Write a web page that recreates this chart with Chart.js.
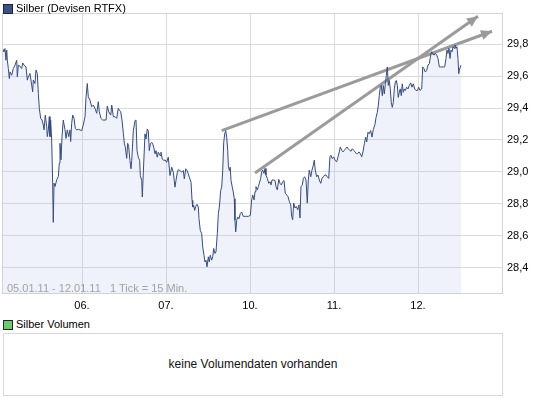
<!DOCTYPE html>
<html>
<head>
<meta charset="utf-8">
<script src="https://cdn.jsdelivr.net/npm/chart.js@4/dist/chart.umd.min.js"></script>
<style>
  html, body { margin: 0; padding: 0; background: #fff; }
  body { width: 545px; height: 398px; position: relative; overflow: hidden;
         font-family: "Liberation Sans", Arial, sans-serif; }
  #wrap { position: absolute; left: 0; top: 0; width: 545px; height: 315px; }
  .legend { position: absolute; font-size: 11px; color: #000; white-space: nowrap; }
  .legend .sq { position: absolute; left: 0; width: 8px; height: 8px; border: 1px solid #223; }
  .legend span.t { position: absolute; left: 13px; top: -1px; }
  #foot { position: absolute; left: 7px; top: 282px; font-size: 11px; color: #a2a2a2; white-space: pre; }
  #volbox { position: absolute; left: 3px; top: 333px; width: 498px; height: 61px;
            border: 1px solid #d8d8d8; box-sizing: content-box; }
  #volbox div { position: absolute; left: 0; right: 0; top: 23px; text-align: center;
                font-size: 12px; color: #111; }
</style>
</head>
<body>
<div id="wrap"><canvas id="c" width="545" height="315"></canvas></div>
<div class="legend" style="left:3px; top:3px;"><div class="sq" style="background:#3c5283; top:1px;"></div><span class="t">Silber (Devisen RTFX)</span></div>
<div id="foot">05.01.11 - 12.01.11   1 Tick = 15 Min.</div>
<div class="legend" style="left:3px; top:319px;"><div class="sq" style="background:#6ccc6c; top:1px;"></div><span class="t">Silber Volumen</span></div>
<div id="volbox"><div>keine Volumendaten vorhanden</div></div>
<script>
// Trading-day positions (0 = 05.01.11 start, 1 = 06., 2 = 07., 3 = 10., 4 = 11., 5 = 12.)
const days = [
0.056,0.071,0.083,0.095,0.104,0.111,0.123,0.135,0.143,0.163,0.182,0.202,0.223,0.230,0.242,0.262,0.282,0.294,0.310,0.333,
0.349,0.361,0.381,0.401,0.413,0.420,0.440,0.452,0.468,0.480,0.492,0.508,0.524,0.539,0.548,0.563,0.580,0.587,0.599,0.611,
0.619,0.627,0.639,0.651,0.658,0.667,0.679,0.699,0.718,0.730,0.738,0.750,0.762,0.777,0.798,0.810,0.825,0.842,0.857,0.865,
0.877,0.889,0.905,0.920,0.937,0.956,0.976,0.996,1.015,1.036,1.048,1.063,1.075,1.095,1.115,1.135,1.155,1.175,1.194,1.206,
1.226,1.246,1.262,1.286,1.301,1.318,1.342,1.354,1.373,1.393,1.413,1.432,1.444,1.461,1.476,1.492,1.504,1.515,1.532,1.544,
1.556,1.571,1.583,1.592,1.611,1.631,1.643,1.655,1.670,1.687,1.694,1.711,1.718,1.730,1.750,1.762,1.777,1.789,1.801,1.813,
1.830,1.842,1.854,1.869,1.881,1.896,1.908,1.929,1.940,1.956,1.973,1.988,2.008,2.027,2.048,2.068,2.087,2.107,2.119,2.135,
2.146,2.167,2.187,2.206,2.218,2.235,2.250,2.265,2.277,2.298,2.310,2.318,2.330,2.342,2.354,2.369,2.385,2.393,2.408,2.425,
2.437,2.452,2.464,2.476,2.488,2.504,2.515,2.527,2.544,2.556,2.568,2.583,2.595,2.611,2.623,2.635,2.651,2.663,2.675,2.687,
2.699,2.711,2.723,2.735,2.742,2.754,2.765,2.774,2.789,2.801,2.813,2.821,2.830,2.842,2.854,2.869,2.884,2.901,2.920,2.949,
2.980,3.004,3.020,3.032,3.048,3.060,3.071,3.087,3.099,3.111,3.127,3.139,3.151,3.167,3.179,3.190,3.206,3.223,3.238,3.250,
3.262,3.277,3.298,3.310,3.325,3.342,3.357,3.373,3.389,3.405,3.420,3.437,3.452,3.468,3.485,3.496,3.508,3.520,3.536,3.551,
3.568,3.583,3.595,3.607,3.623,3.635,3.651,3.667,3.682,3.694,3.706,3.723,3.738,3.754,3.765,3.777,3.794,3.810,3.825,3.842,
3.857,3.873,3.889,3.905,3.920,3.937,3.952,3.964,3.980,3.996,4.012,4.032,4.048,4.063,4.075,4.092,4.107,4.123,4.139,4.155,
4.170,4.187,4.202,4.218,4.235,4.250,4.265,4.282,4.298,4.313,4.330,4.345,4.361,4.377,4.389,4.405,4.420,4.437,4.452,4.468,
4.488,4.500,4.515,4.527,4.539,4.551,4.563,4.575,4.587,4.599,4.611,4.623,4.635,4.646,4.658,4.670,4.682,4.694,4.706,4.718,
4.730,4.742,4.754,4.765,4.777,4.789,4.801,4.813,4.825,4.837,4.849,4.865,4.881,4.896,4.913,4.929,4.944,4.961,4.976,4.992,
5.008,5.024,5.044,5.056,5.071,5.087,5.104,5.119,5.135,5.151,5.163,5.175,5.190,5.206,5.223,5.238,5.254,5.270,5.286,5.301,
5.318,5.333,5.345,5.357,5.369,5.381,5.393,5.405,5.417,5.429,5.440,5.452,5.464,5.476,5.485,5.492,5.500,5.512
];
const prices = [
29.773,29.752,29.773,29.700,29.763,29.700,29.648,29.585,29.627,29.606,29.648,29.669,29.700,29.596,29.669,29.663,29.648,29.683,29.669,29.658,
29.575,29.596,29.617,29.544,29.502,29.575,29.554,29.638,29.617,29.492,29.398,29.335,29.325,29.294,29.263,29.356,29.283,29.221,29.263,29.346,
29.221,29.325,29.200,28.929,28.683,28.929,28.908,28.950,28.971,29.054,29.179,29.075,29.221,29.325,29.263,29.210,29.263,29.221,29.263,29.190,
29.304,29.356,29.335,29.273,29.263,29.267,29.263,29.258,29.294,29.346,29.471,29.554,29.471,29.450,29.408,29.419,29.398,29.367,29.440,29.377,
29.335,29.325,29.325,29.325,29.413,29.377,29.356,29.419,29.346,29.346,29.335,29.398,29.388,29.377,29.325,29.242,29.179,29.158,29.085,29.179,
29.158,29.070,29.019,29.071,29.258,29.321,29.325,29.133,29.092,29.071,28.977,28.946,28.842,28.998,29.238,29.206,29.269,29.258,29.133,29.175,
29.185,29.175,29.154,29.113,29.133,29.092,29.123,29.102,29.123,29.081,29.071,29.075,29.060,29.092,28.977,29.029,28.998,28.904,28.946,28.998,
29.013,29.008,28.998,29.008,28.956,29.019,29.008,28.988,28.967,28.935,28.821,28.779,28.790,28.758,28.783,28.796,28.779,28.706,28.633,28.613,
28.529,28.477,28.435,28.446,28.404,28.467,28.435,28.477,28.446,28.467,28.519,28.488,28.498,28.613,28.738,28.779,28.883,28.904,29.008,29.185,
29.238,29.258,29.217,29.133,29.040,29.008,29.029,28.946,28.904,28.873,28.831,28.696,28.623,28.696,28.717,28.706,28.738,28.748,28.721,28.721,
28.721,28.727,28.824,28.855,28.824,28.876,28.907,28.887,28.907,28.928,28.959,29.000,29.011,28.990,29.021,28.980,28.959,28.928,28.938,28.918,
28.949,28.949,28.945,28.907,28.887,28.953,28.928,28.918,28.938,28.945,28.866,28.855,28.845,28.814,28.793,28.721,28.700,28.804,28.773,28.783,
28.762,28.793,28.711,28.907,28.918,28.959,28.969,28.949,28.804,28.949,29.011,28.969,29.011,29.042,29.073,29.011,28.969,28.980,28.949,28.928,
28.959,28.969,28.980,28.980,28.969,28.959,29.094,29.104,29.083,29.094,29.073,29.063,29.094,29.125,29.156,29.135,29.125,29.135,29.145,29.156,
29.145,29.135,29.129,29.145,29.135,29.125,29.114,29.114,29.125,29.114,29.094,29.125,29.176,29.218,29.187,29.249,29.239,29.259,29.218,29.266,
29.298,29.340,29.372,29.414,29.478,29.531,29.542,29.478,29.542,29.489,29.552,29.605,29.658,29.542,29.573,29.520,29.436,29.404,29.436,29.520,
29.563,29.573,29.542,29.467,29.499,29.520,29.478,29.552,29.499,29.520,29.510,29.531,29.520,29.542,29.558,29.531,29.552,29.520,29.510,29.510,
29.531,29.510,29.520,29.658,29.647,29.626,29.637,29.669,29.679,29.732,29.753,29.743,29.732,29.743,29.732,29.711,29.658,29.658,29.658,29.658,
29.658,29.711,29.764,29.743,29.775,29.711,29.764,29.753,29.785,29.775,29.796,29.775,29.785,29.711,29.616,29.637,29.652,29.669
];
const dayTicks = [1, 2, 3, 4, 5];
const dayLabels = ['06.', '07.', '10.', '11.', '12.'];
const priceTicks = [28.4, 28.6, 28.8, 29.0, 29.2, 29.4, 29.6, 29.8];
// Drawn trend arrows: [day, price] start and end
const trendA = [[2.663, 29.259], [5.881, 29.882]];
const trendB = [[3.060, 28.993], [5.714, 29.976]];
const X_MIN = 0.0595, X_MAX = 6.0, Y_MIN = 28.24, Y_MAX = 29.99;

const FONT = '"Liberation Sans", Arial, sans-serif';
const series = days.map((d, i) => ({ x: d, y: prices[i] }));
const toPts = arr => arr.map(p => ({ x: p[0], y: p[1] }));

const arrowHeads = {
  id: 'arrowHeads',
  afterDatasetsDraw(chart) {
    const ctx = chart.ctx;
    chart.data.datasets.forEach((ds, i) => {
      if (!ds.isArrow) return;
      const pts = chart.getDatasetMeta(i).data;
      const a = pts[0], b = pts[pts.length - 1];
      const ang = Math.atan2(b.y - a.y, b.x - a.x);
      const len = 11, hw = 5;
      ctx.save();
      ctx.fillStyle = ds.borderColor;
      ctx.beginPath();
      ctx.moveTo(b.x, b.y);
      ctx.lineTo(b.x - len * Math.cos(ang) + hw * Math.sin(ang), b.y - len * Math.sin(ang) - hw * Math.cos(ang));
      ctx.lineTo(b.x - len * Math.cos(ang) - hw * Math.sin(ang), b.y - len * Math.sin(ang) + hw * Math.cos(ang));
      ctx.closePath();
      ctx.fill();
      ctx.restore();
    });
  },
  afterDraw(chart) {
    const { ctx, chartArea: c } = chart;
    ctx.save();
    ctx.strokeStyle = '#d2d2d2';
    ctx.lineWidth = 1;
    ctx.strokeRect(c.left - 0.5, c.top - 0.5, c.right - c.left + 1, c.bottom - c.top + 1);
    ctx.restore();
  }
};

new Chart(document.getElementById('c'), {
  type: 'line',
  data: {
    datasets: [
      { data: series, borderColor: '#364b7d', borderWidth: 1, pointRadius: 0,
        fill: 'start', backgroundColor: 'rgba(148,168,222,0.15)', tension: 0 },
      { data: toPts(trendA), isArrow: true, borderColor: '#9b9b9b', borderWidth: 3,
        pointRadius: 0, fill: false, clip: false },
      { data: toPts(trendB), isArrow: true, borderColor: '#9b9b9b', borderWidth: 3,
        pointRadius: 0, fill: false, clip: false }
    ]
  },
  options: {
    responsive: false,
    devicePixelRatio: 1,
    animation: false,
    layout: { padding: { left: 3, top: 14, right: 0, bottom: 0 } },
    plugins: { legend: { display: false }, tooltip: { enabled: false } },
    scales: {
      x: {
        type: 'linear', min: X_MIN, max: X_MAX,
        afterBuildTicks: s => { s.ticks = dayTicks.map(v => ({ value: v })); },
        afterFit: s => { s.height = 22; },
        ticks: { autoSkip: false, maxRotation: 0, padding: 6, color: '#000',
                 font: { size: 11, family: FONT },
                 callback: v => dayLabels[dayTicks.indexOf(v)] },
        grid: { color: '#dcdcdc', drawTicks: false },
        border: { display: false }
      },
      y: {
        position: 'right', min: Y_MIN, max: Y_MAX,
        afterBuildTicks: s => { s.ticks = priceTicks.map(v => ({ value: v })); },
        afterFit: s => { s.width = 43; },
        ticks: { padding: 5, color: '#000', font: { size: 11, family: FONT },
                 callback: v => v.toFixed(1).replace('.', ',') },
        grid: { color: '#dcdcdc', drawTicks: false },
        border: { display: false }
      }
    }
  },
  plugins: [arrowHeads]
});
</script>
</body>
</html>
